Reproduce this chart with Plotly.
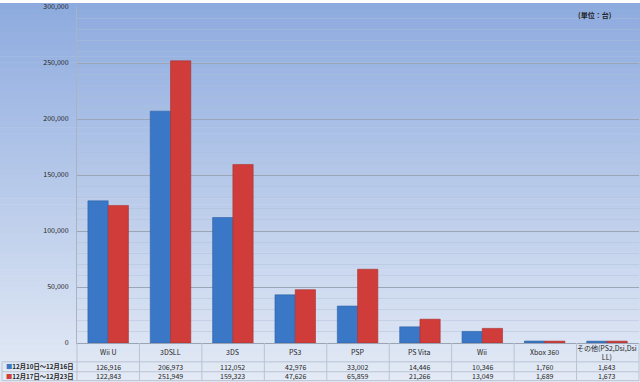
import plotly.graph_objects as go

# Weekly hardware unit sales
categories = ["Wii U", "3DSLL", "3DS", "PS3", "PSP", "PS Vita", "Wii", "Xbox 360",
              "その他(PS2,Dsi,Dsi LL)"]
category_labels = ["Wii U", "3DSLL", "3DS", "PS3", "PSP", "PS Vita", "Wii", "Xbox 360",
                   "その他(PS2,Dsi,Dsi<br>LL)"]
series_names = ["12月10日～12月16日", "12月17日～12月23日"]
week1 = [126916, 206973, 112052, 42976, 33002, 14446, 10346, 1760, 1643]
week2 = [122843, 251949, 159323, 47626, 65859, 21266, 13049, 1689, 1673]
y_ticks = [0, 50000, 100000, 150000, 200000, 250000, 300000]
unit_note = "(単位：台)"

W, H = 640, 382
ML, MR, MT, MB = 77, 1, 4, 39
PW, PH = W - ML - MR, H - MT - MB

FONT = "Noto Sans CJK JP, Noto Sans, sans-serif"
TXT = "#1f1f1f"
BLUE = "#3a77c6"
RED = "#cf3c39"


def px_x(px):
    return (px - ML) / PW


def px_y(py):
    return (H - MB - py) / PH


fig = go.Figure()
fig.add_trace(go.Bar(x=categories, y=week1, name=series_names[0],
                     marker=dict(color=BLUE, line=dict(width=0.6, color="#2f62a4"))))
fig.add_trace(go.Bar(x=categories, y=week2, name=series_names[1],
                     marker=dict(color=RED, line=dict(width=0.6, color="#a83230"))))

shapes = []

# vertical gradient background in horizontal bands
top = (142, 171, 223)
bottom = (227, 234, 245)
n = 64
for i in range(n):
    t = i / (n - 1)
    c = tuple(round(top[k] + (bottom[k] - top[k]) * t) for k in range(3))
    y0 = i * H / n
    y1 = (i + 1) * H / n + 0.6
    shapes.append(dict(type="rect", xref="paper", yref="paper", layer="below",
                       x0=px_x(0), x1=px_x(W), y0=px_y(y1), y1=px_y(y0),
                       fillcolor="rgb(%d,%d,%d)" % c, line=dict(width=0)))

# data table grid
grid = "#b9c3d3"
col_w = PW / len(categories)
row_lines = [362, 372, 381]
for py in row_lines:
    shapes.append(dict(type="line", xref="paper", yref="paper", layer="above",
                       x0=px_x(2), x1=px_x(W - 1), y0=px_y(py), y1=px_y(py),
                       line=dict(color=grid, width=1)))
for i in range(len(categories) + 1):
    xp = px_x(ML + i * col_w)
    shapes.append(dict(type="line", xref="paper", yref="paper", layer="above",
                       x0=xp, x1=xp, y0=px_y(H - MB), y1=px_y(381),
                       line=dict(color=grid, width=1)))
shapes.append(dict(type="line", xref="paper", yref="paper", layer="above",
                   x0=px_x(2), x1=px_x(2), y0=px_y(362), y1=px_y(381),
                   line=dict(color=grid, width=1)))

annotations = []
for cat, lab, a, b in zip(categories, category_labels, week1, week2):
    annotations.append(dict(x=cat, xref="x", y=px_y(352.5), yref="paper",
                            text=lab, showarrow=False, yanchor="middle",
                            font=dict(size=7, color=TXT, family=FONT)))
    annotations.append(dict(x=cat, xref="x", y=px_y(367), yref="paper",
                            text=f"{a:,}", showarrow=False, yanchor="middle",
                            font=dict(size=7, color=TXT, family=FONT)))
    annotations.append(dict(x=cat, xref="x", y=px_y(376.5), yref="paper",
                            text=f"{b:,}", showarrow=False, yanchor="middle",
                            font=dict(size=7, color=TXT, family=FONT)))

for name, color, py in [(series_names[0], BLUE, 367), (series_names[1], RED, 376.5)]:
    annotations.append(dict(x=px_x(4), xref="paper", y=px_y(py), yref="paper",
                            xanchor="left", yanchor="middle", showarrow=False,
                            text=f"<span style='color:{color}'>■</span><b>{name}</b>",
                            font=dict(size=6.3, color=TXT, family=FONT)))

annotations.append(dict(x=px_x(614), xref="paper", y=px_y(12), yref="paper",
                        xanchor="right", yanchor="middle", showarrow=False,
                        text=f"<b>{unit_note}</b>",
                        font=dict(size=7, color=TXT, family=FONT)))

fig.update_layout(
    width=W, height=H,
    margin=dict(l=ML, r=MR, t=MT, b=MB, pad=0),
    paper_bgcolor="rgba(0,0,0,0)",
    plot_bgcolor="rgba(0,0,0,0)",
    barmode="group", bargap=0.35, bargroupgap=0,
    showlegend=False,
    shapes=shapes,
    annotations=annotations,
    font=dict(family=FONT, size=7, color=TXT),
    xaxis=dict(showticklabels=False, showgrid=False, ticks="",
               showline=True, linecolor="#9aa4b4", linewidth=1),
    yaxis=dict(range=[0, 300000], tickvals=y_ticks,
               ticktext=[f"{v:,}" for v in y_ticks],
               tickfont=dict(size=7, color=TXT, family=FONT),
               ticklabelstandoff=6, ticklabeloverflow="allow",
               showgrid=True, gridcolor="#9aa5b6", gridwidth=1,
               minor=dict(dtick=10000, showgrid=True,
                          gridcolor="rgba(175,190,214,0.45)", gridwidth=1),
               showline=True, linecolor="#aab3c2", linewidth=1,
               zeroline=False, ticks=""),
)

fig.write_html("out.html")
